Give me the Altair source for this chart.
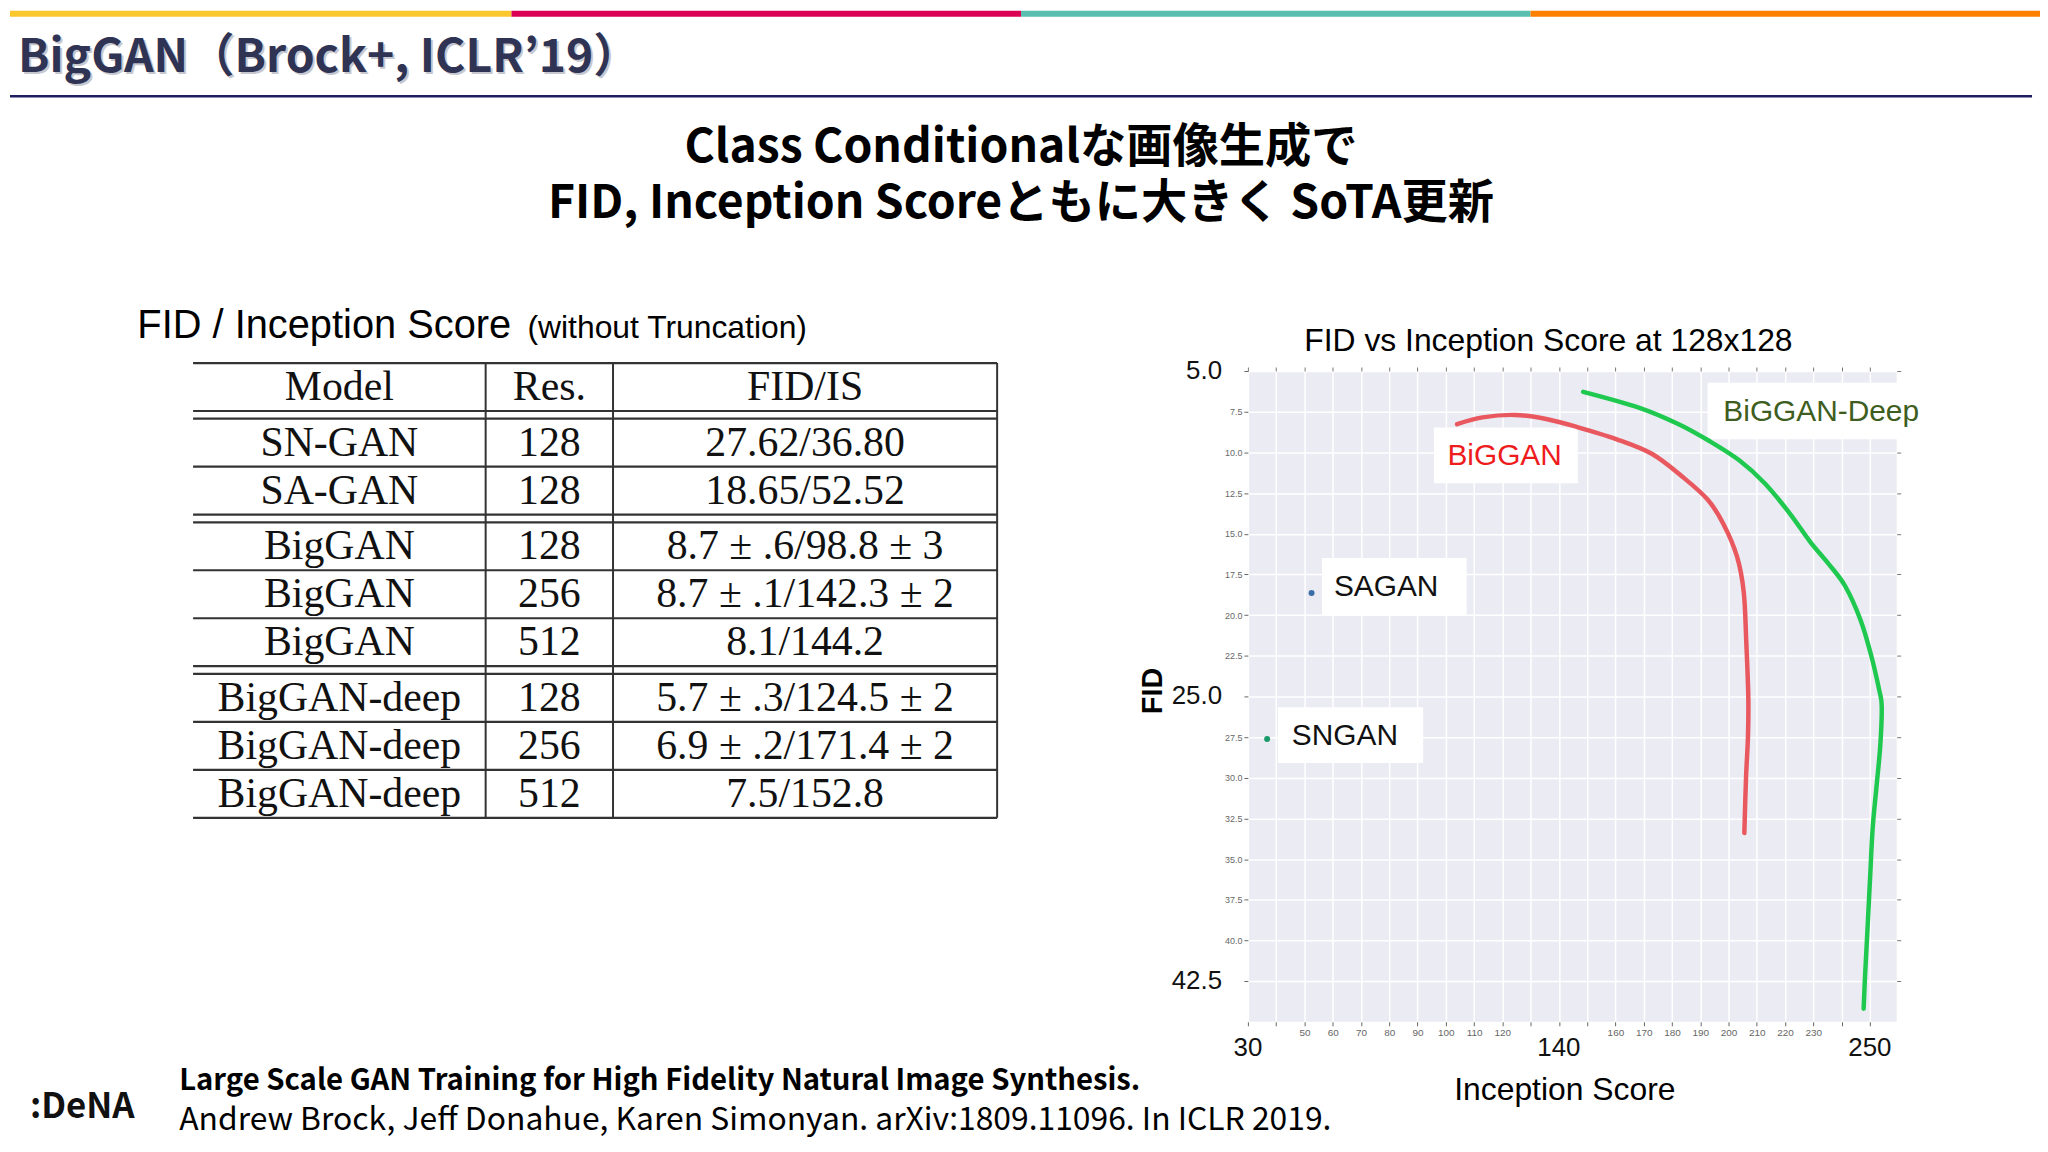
import altair as alt
import pandas as pd

# ---------------- table data ----------------
table_header = ["Model", "Res.", "FID/IS"]
table_model = ["SN-GAN", "SA-GAN", "BigGAN", "BigGAN", "BigGAN",
               "BigGAN-deep", "BigGAN-deep", "BigGAN-deep"]
table_res = ["128", "128", "128", "256", "512", "128", "256", "512"]
table_fid_is = ["27.62/36.80", "18.65/52.52", "8.7 ± .6/98.8 ± 3",
                "8.7 ± .1/142.3 ± 2", "8.1/144.2", "5.7 ± .3/124.5 ± 2",
                "6.9 ± .2/171.4 ± 2", "7.5/152.8"]
table_group = [0, 0, 1, 1, 1, 2, 2, 2]

# ---------------- scatter data ----------------
biggan_is = [104.0, 113.0, 124.5, 135.5, 146.2, 160.5, 173.0, 183.7, 192.6,
             198.2, 203.0, 205.4, 206.3, 207.0, 206.9, 206.2, 205.6]
biggan_fid = [8.27, 7.85, 7.7, 7.95, 8.43, 9.2, 10.1, 11.5, 12.9,
              14.4, 16.4, 18.6, 21.7, 25.0, 27.4, 30.0, 33.4]
deep_is = [148.6, 168.5, 182.4, 193.1, 203.9, 212.8, 221.7, 228.9, 235.4,
           241.2, 246.7, 250.5, 253.3, 254.2, 253.7, 252.3, 251.0, 250.1,
           249.2, 248.3, 247.8]
deep_fid = [6.28, 7.26, 8.27, 9.29, 10.5, 11.9, 13.76, 15.5, 16.85,
            18.2, 20.3, 22.5, 24.6, 25.6, 28.0, 30.65, 33.1, 36.1,
            39.2, 42.2, 44.2]
point_names = ["SNGAN", "SAGAN"]
point_is = [36.80, 52.52]
point_fid = [27.62, 18.65]

label_names = ["BiGGAN", "BiGGAN-Deep", "SAGAN", "SNGAN"]
label_is = [120.8, 232.8, 78.9, 64.3]
label_fid = [10.2, 7.5, 18.3, 27.45]
box_is = [95.8, 192.6, 56.2, 40.6]
box_is2 = [146.7, 269.0, 107.4, 92.0]
box_fid = [8.48, 5.73, 16.5, 25.67]
box_fid2 = [11.9, 9.19, 20.0, 29.1]

x_ticks = list(range(30, 260, 10))
y_ticks = [5 + 2.5 * i for i in range(16)]
big_x_values = [30, 140, 250]
big_x_text = ["30", "140", "250"]
big_y_values = [5.0, 25.0, 42.5]
big_y_text = ["5.0", "25.0", "42.5"]

# ---------------- styles ----------------
GOTHIC = "Noto Sans CJK JP, sans-serif"
SANS = "Liberation Sans, Arial, sans-serif"
SERIF = "Liberation Serif, Times New Roman, serif"
bar_colors = ["#fcc62d", "#dc0055", "#5bbfb0", "#ff7f00"]
label_colors = ["#ee1c1c", "#3e5d20", "#111111", "#111111"]

one = pd.DataFrame({"k": [0]})


def txt(s, x, y, size, align="left", baseline="middle", **kw):
    return alt.Chart(one).mark_text(
        text=s, fontSize=size, align=align, baseline=baseline, **kw
    ).encode(x=alt.value(x), y=alt.value(y))


# ---------------- left panel (slide decorations + table) ----------------
LW, H = 1244, 654
layers = []
for i, c in enumerate(bar_colors):
    x0 = 0 if i == 0 else 512 * i - 8
    x1 = 512 * (i + 1) - 8
    layers.append(alt.Chart(one).mark_rect(color=c).encode(
        x=alt.value(x0), x2=alt.value(x1), y=alt.value(-362), y2=alt.value(-356)))
layers.append(alt.Chart(one).mark_rule(color="#1f1f5f", strokeWidth=2.5).encode(
    x=alt.value(0), x2=alt.value(2032), y=alt.value(-276)))
header = "BigGAN（Brock+, ICLR’19）"
layers.append(txt(header, 10, -312, 46.5, font=GOTHIC, fontWeight="bold",
                  color="#9a9aa8", opacity=0.55))
layers.append(txt(header, 8, -314, 46.5, font=GOTHIC, fontWeight="bold", color="#2f3354"))
layers.append(txt("Class Conditionalな画像生成で", 1016, -224, 46.5, align="center",
                  font=GOTHIC, fontWeight="bold", color="#000"))
layers.append(txt("FID, Inception Scoreともに大きく SoTA更新", 1016, -168, 46.5,
                  align="center", font=GOTHIC, fontWeight="bold", color="#000"))
layers.append(txt("FID / Inception Score", 128, -33, 40, baseline="alphabetic",
                  font=SANS, color="#000"))
layers.append(txt("(without Truncation)", 520, -33, 32, baseline="alphabetic",
                  font=SANS, color="#000"))
layers.append(txt("Large Scale GAN Training for High Fidelity Natural Image Synthesis.",
                  170, 714, 29.4, font=GOTHIC, fontWeight="bold", color="#000"))
layers.append(txt("Andrew Brock, Jeff Donahue, Karen Simonyan. arXiv:1809.11096. In ICLR 2019.",
                  170, 753, 32, font=GOTHIC, color="#000"))
layers.append(txt(":DeNA", 20, 740, 35, font=GOTHIC, fontWeight="bold", color="#111"))

# table geometry from row structure
g = 0.16
col_edges = [0, 294, 422, 808]
col_centers = [(col_edges[i] + col_edges[i + 1]) / 2 for i in range(3)]
row_tops = [1 + i + g * (table_group[i] + 1) for i in range(len(table_model))]
total = 1 + len(table_model) + g * (max(table_group) + 1)
hl_y = sorted(set([0.0, 1.0] + [round(t, 4) for t in row_tops] +
                  [round(t + 1, 4) for t in row_tops]))
hl = pd.DataFrame({"y": hl_y, "x0": col_edges[0], "x1": col_edges[-1]})
vl = pd.DataFrame({"x": col_edges[1:], "y0": 0.0, "y1": total})
rows = []
for j, h in enumerate(table_header):
    rows.append({"x": col_centers[j], "y": 0.5, "t": h})
for i in range(len(table_model)):
    for j, v in enumerate([table_model[i], table_res[i], table_fid_is[i]]):
        rows.append({"x": col_centers[j], "y": row_tops[i] + 0.5, "t": v})
tt = pd.DataFrame(rows)

tx = alt.Scale(domain=[0, col_edges[-1]], range=[184, 992], nice=False, zero=False)
ty = alt.Scale(domain=[0, total], range=[-8, 449], nice=False, zero=False)

layers.append(alt.Chart(hl).mark_rule(color="#333", strokeWidth=2.2).encode(
    x=alt.X("x0:Q", scale=tx, axis=None), x2="x1:Q",
    y=alt.Y("y:Q", scale=ty, axis=None)))
layers.append(alt.Chart(vl).mark_rule(color="#333", strokeWidth=2).encode(
    x=alt.X("x:Q", scale=tx, axis=None),
    y=alt.Y("y0:Q", scale=ty, axis=None), y2="y1:Q"))
layers.append(alt.Chart(tt).mark_text(font=SERIF, fontSize=42, color="#111",
                                       baseline="middle").encode(
    x=alt.X("x:Q", scale=tx, axis=None),
    y=alt.Y("y:Q", scale=ty, axis=None), text="t:N"))

left = alt.layer(*layers).properties(width=LW, height=H)

# ---------------- scatter panel ----------------
xs = alt.Scale(domain=[30, 259.5], nice=False, zero=False)
ys = alt.Scale(domain=[5, 45], reverse=True, nice=False, zero=False)
xaxis = alt.Axis(
    values=x_ticks, grid=True, gridColor="white", gridWidth=1.5, domain=False,
    tickColor="#666", tickSize=4, labelPadding=2, labelFlush=False,
    labelExpr="indexof([30,40,130,140,150,240,250], datum.value) >= 0 ? '' : datum.label",
    labelFontSize=10, labelColor="#666", labelFont=SANS,
    title="Inception Score", titleFont=SANS, titleFontSize=32,
    titleFontWeight="normal", titleColor="#000",
    titleX=318, titleY=68, titleAlign="center", titleBaseline="middle")
yaxis = alt.Axis(
    values=y_ticks, format=".1f", grid=True, gridColor="white", gridWidth=1.5,
    domain=False, tickColor="#666", tickSize=4, labelPadding=2, labelFlush=False,
    labelExpr="indexof([5,25,42.5], datum.value) >= 0 ? '' : datum.label",
    labelFontSize=9, labelColor="#666", labelFont=SANS,
    title="FID", titleFont=SANS, titleFontSize=29, titleFontWeight="bold",
    titleColor="#000", titleAngle=270, titleX=-96, titleY=321,
    titleAlign="center", titleBaseline="middle")

X = alt.X("IS:Q", scale=xs, axis=xaxis)
Y = alt.Y("FID:Q", scale=ys, axis=yaxis)
Xn = alt.X("IS:Q", scale=xs, axis=None)
Yn = alt.Y("FID:Q", scale=ys, axis=None)

boxes = pd.DataFrame({"IS": box_is, "IS2": box_is2, "FID": box_fid, "FID2": box_fid2,
                      "name": label_names})
curves = pd.concat([
    pd.DataFrame({"IS": biggan_is, "FID": biggan_fid, "model": "BigGAN",
                  "o": range(len(biggan_is))}),
    pd.DataFrame({"IS": deep_is, "FID": deep_fid, "model": "BigGAN-deep",
                  "o": range(len(deep_is))}),
])
pts = pd.DataFrame({"IS": point_is, "FID": point_fid, "name": point_names})
labs = pd.DataFrame({"IS": label_is, "FID": label_fid, "name": label_names})
bigx = pd.DataFrame({"IS": big_x_values, "t": big_x_text})
bigy = pd.DataFrame({"FID": big_y_values, "t": big_y_text})

box_layer = alt.Chart(boxes).mark_rect(color="white").encode(
    x=X, x2="IS2:Q", y=Y, y2="FID2:Q")
line_layer = alt.Chart(curves).mark_line(strokeWidth=4.5, interpolate="cardinal",
                                         strokeCap="round").encode(
    x=Xn, y=Yn, order="o:Q",
    color=alt.Color("model:N", scale=alt.Scale(domain=["BigGAN", "BigGAN-deep"],
                                               range=["#e8585e", "#1fc94f"]),
                    legend=None))
pt_layer = alt.Chart(pts).mark_circle(size=36, opacity=1).encode(
    x=Xn, y=Yn,
    color=alt.Color("name:N", scale=alt.Scale(domain=["SNGAN", "SAGAN"],
                                              range=["#1a9a6a", "#3a6ea5"]),
                    legend=None))
lab_layer = alt.Chart(labs).mark_text(font=SANS, fontSize=30, baseline="middle").encode(
    x=Xn, y=Yn, text="name:N",
    color=alt.Color("name:N", scale=alt.Scale(domain=label_names, range=label_colors),
                    legend=None))
bigx_layer = alt.Chart(bigx).mark_text(font=SANS, fontSize=26, color="#111",
                                       align="center", baseline="middle").encode(
    x=Xn, y=alt.value(H + 26), text="t:N")
bigy_layer = alt.Chart(bigy).mark_text(font=SANS, fontSize=26, color="#111",
                                       align="right", baseline="middle").encode(
    y=Yn, x=alt.value(-26), text="t:N")
title_layer = txt("FID vs Inception Score at 128x128", 302, -30, 32,
                  align="center", font=SANS, color="#000")
extra_axes = alt.Chart(pts).mark_point(opacity=0).encode(
    x=alt.X("IS:Q", scale=xs, axis=alt.Axis(orient="top", values=x_ticks, labels=False,
                                            grid=False, domain=False, tickColor="#777",
                                            tickSize=4, title=None)),
    y=alt.Y("FID:Q", scale=ys, axis=alt.Axis(orient="right", values=y_ticks,
                                             labels=False, grid=False, domain=False,
                                             tickColor="#777", tickSize=4, title=None)))

scatter = alt.layer(box_layer, line_layer, pt_layer, lab_layer, bigx_layer, bigy_layer,
                    title_layer, extra_axes).resolve_axis(
    x="independent", y="independent").resolve_scale(color="independent").properties(
    width=652, height=H, view=alt.ViewBackground(fill="#EBEBF3", stroke=None))

chart = alt.hconcat(left, scatter, spacing=0, bounds="flush").properties(
    padding=0, background="white").configure_view(stroke=None)

chart.save("out.html", embed_options={"renderer": "svg", "actions": False})
